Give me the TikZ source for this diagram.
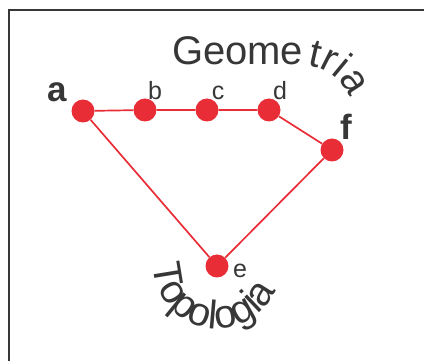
\documentclass[tikz,border=0pt]{standalone}
\usepackage{fontspec}
\setmainfont{Liberation Sans}
\usepackage{xcolor}
\usetikzlibrary{positioning,decorations.text}

\definecolor{vred}{RGB}{232,45,55}
\definecolor{txtgray}{RGB}{55,55,55}

\begin{document}
\begin{tikzpicture}[
  x=1pt, y=1pt,
  vtx/.style={circle, fill=vred, inner sep=0pt, minimum size=23pt},
  edge/.style={vred, line width=1.7pt},
  lbl/.style={text=txtgray, anchor=base, inner sep=0pt, font=\fontsize{25}{25}\selectfont},
  blbl/.style={lbl, font=\fontsize{35}{35}\selectfont\bfseries},
  frame/.style={txtgray, line width=2.2pt}
]
\useasboundingbox (0,0) rectangle (424,-361);

% ---- frame ----
\draw[frame] (424,-10) -- (9,-10) -- (9,-361);

% ---- vertices ----
\node[vtx] (a) at (83,-111) {};
\node[vtx] (b) at (145,-110) {};
\node[vtx] (c) at (207,-110) {};
\node[vtx] (d) at (269,-110) {};
\node[vtx] (f) at (332,-150) {};
\node[vtx] (e) at (217,-266) {};

\draw[edge] (a) -- (b) -- (c) -- (d) -- (f) -- (e) -- (a);

% ---- labels ----
\node[blbl] (la) at (57,-102) {a};
\node[lbl] (lb) at (155,-100) {b};
\node[lbl] (lc) at (218,-100) {c};
\node[lbl] (ld) at (280,-100) {d};
\node[lbl] (le) at (240,-277) {e};
\node[blbl] (lf) at (346,-140) {f};

% ---- words on curves ----
\path[decorate, decoration={text along path,
    text={|\fontsize{40}{40}\selectfont\color{txtgray}|Geome|\fontsize{16}{16}\selectfont| |\fontsize{40}{40}\selectfont\color{txtgray}|tria}}]
  (172,-65) -- (302,-65) arc[start angle=90, end angle=0, radius=50];

\path[decorate, decoration={text along path, text align=center,
    text={|\fontsize{40}{40}\selectfont\color{txtgray}|Topologia}}]
  ([shift={(165:63)}]e.center) arc[start angle=165, end angle=351, radius=63];
\end{tikzpicture}
\end{document}
